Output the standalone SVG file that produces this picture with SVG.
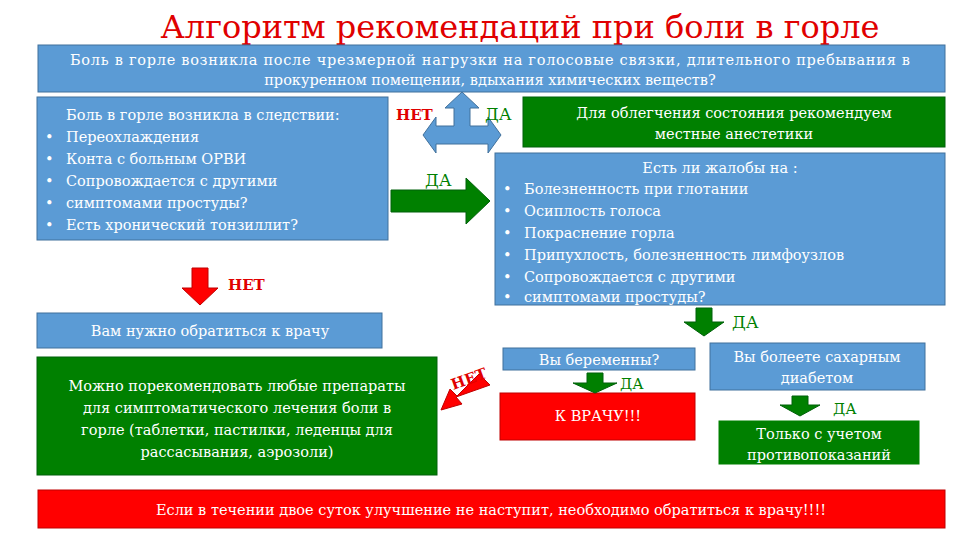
<svg xmlns="http://www.w3.org/2000/svg" width="960" height="540" viewBox="0 0 960 540" font-family="'DejaVu Serif', 'Liberation Serif', serif">
<style>
.b{fill:#5b9bd5;stroke:#41719c;stroke-width:1}
.g{fill:#008000;stroke:#00600a;stroke-width:1}
.r{fill:#ff0000;stroke:#c00000;stroke-width:1}
text{font-family:'DejaVu Serif','Liberation Serif',serif;fill:#fff;font-size:14.5px}
.c{text-anchor:middle}
.lg{fill:#008000;font-size:17px}
.lr{fill:#e00000;font-size:15px;font-weight:bold}
</style>
<rect width="960" height="540" fill="#fff"/>
<text x="520" y="38" class="c" style="font-size:32px;fill:#e00000">Алгоритм рекомендаций при боли в горле</text>
<g id="top"><rect class="b" x="38" y="45" width="907" height="47"/>
<text x="490" y="65" class="c" textLength="840">Боль в горле возникла после чрезмерной нагрузки на голосовые связки, длительного пребывания в</text>
<text x="490" y="85" class="c">прокуренном помещении, вдыхания химических веществ?</text></g>
<g id="left"><rect class="b" x="37" y="97" width="351" height="143"/>
<text x="66" y="120">Боль в горле возникла в следствии:</text>
<text x="45" y="142">•</text><text x="66" y="142">Переохлаждения</text>
<text x="45" y="164">•</text><text x="66" y="164">Конта с больным ОРВИ</text>
<text x="45" y="186">•</text><text x="66" y="186">Сопровождается с другими</text>
<text x="45" y="208">•</text><text x="66" y="208">симптомами простуды?</text>
<text x="45" y="230">•</text><text x="66" y="230">Есть хронический тонзиллит?</text></g>
<g id="anest"><rect class="g" x="523" y="97" width="422" height="50"/>
<text x="734" y="118" class="c">Для облегчения состояния рекомендуем</text>
<text x="734" y="139" class="c">местные анестетики</text></g>
<g id="complaints"><rect class="b" x="495" y="153" width="450" height="152"/>
<text x="720" y="173" class="c">Есть ли жалобы на :</text>
<text x="503" y="194">•</text><text x="524" y="194">Болезненность при глотании</text>
<text x="503" y="216">•</text><text x="524" y="216">Осиплость голоса</text>
<text x="503" y="238">•</text><text x="524" y="238">Покраснение горла</text>
<text x="503" y="260">•</text><text x="524" y="260">Припухлость,  болезненность лимфоузлов</text>
<text x="503" y="282">•</text><text x="524" y="282">Сопровождается с другими</text>
<text x="503" y="302">•</text><text x="524" y="302">симптомами простуды?</text></g>
<g id="doctor"><rect class="b" x="37" y="313" width="345" height="35"/>
<text x="210" y="336" class="c">Вам нужно обратиться к врачу</text></g>
<g id="drugs"><rect class="g" x="37" y="357" width="400" height="118"/>
<text x="237" y="391" class="c">Можно порекомендовать любые препараты</text>
<text x="237" y="413" class="c">для симптоматического лечения боли в</text>
<text x="237" y="435" class="c">горле (таблетки, пастилки, леденцы для</text>
<text x="237" y="457" class="c">рассасывания, аэрозоли)</text></g>
<g id="preg"><rect class="b" x="503" y="348" width="192" height="22"/>
<text x="599" y="365" class="c">Вы беременны?</text></g>
<g id="vrach"><rect class="r" x="500" y="393" width="195" height="47"/>
<text x="598" y="421" class="c">К ВРАЧУ!!!</text></g>
<g id="diab"><rect class="b" x="710" y="343" width="215" height="47"/>
<text x="817" y="362" class="c">Вы болеете сахарным</text>
<text x="817" y="383" class="c">диабетом</text></g>
<g id="contra"><rect class="g" x="718" y="420" width="202" height="45" style="stroke:#fff"/>
<text x="819" y="439" class="c">Только с учетом</text>
<text x="819" y="460" class="c">противопоказаний</text></g>
<g id="bottom"><rect class="r" x="38" y="490" width="907" height="38"/>
<text x="491" y="515" class="c">Если в течении двое суток улучшение не наступит, необходимо обратиться к врачу!!!!</text></g>
<g id="connectors">
<path class="b" d="M462 92 L479 108 L470 108 L470 126 L488 126 L488 117 L501 135 L488 153 L488 144 L436 144 L436 153 L423 135 L436 117 L436 126 L454 126 L454 108 L445 108 Z"/>
<path class="g" d="M391 190 L466 190 L466 178 L490 201 L466 224 L466 212 L391 212 Z"/>
<path class="r" d="M192 268 L208 268 L208 288 L218 288 L200 305 L182 288 L192 288 Z"/>
<path class="g" d="M696 308 L712 308 L712 322 L724 322 L704 336 L684 322 L696 322 Z"/>
<path class="r" d="M490 385 L479 374 L457 396 L450 389 L441 410 L462 404 L456 397 Z"/>
<path class="g" d="M587 373 L603 373 L603 383 L617 383 L595 393 L573 383 L587 383 Z"/>
<path class="g" d="M792 396 L808 396 L808 405 L820 405 L800 416 L780 405 L792 405 Z"/>
</g>
<text x="396" y="120" class="lr">НЕТ</text>
<text x="485" y="120" class="lg">ДА</text>
<text x="425" y="186" class="lg">ДА</text>
<text x="228" y="290" class="lr">НЕТ</text>
<text x="732" y="328" class="lg">ДА</text>
<text x="620" y="389" class="lg" style="font-size:15px">ДА</text>
<text x="833" y="414" class="lg" style="font-size:15px">ДА</text>
<text x="450" y="385" class="lr" transform="rotate(-20 466 378)">НЕТ</text>
</svg>
